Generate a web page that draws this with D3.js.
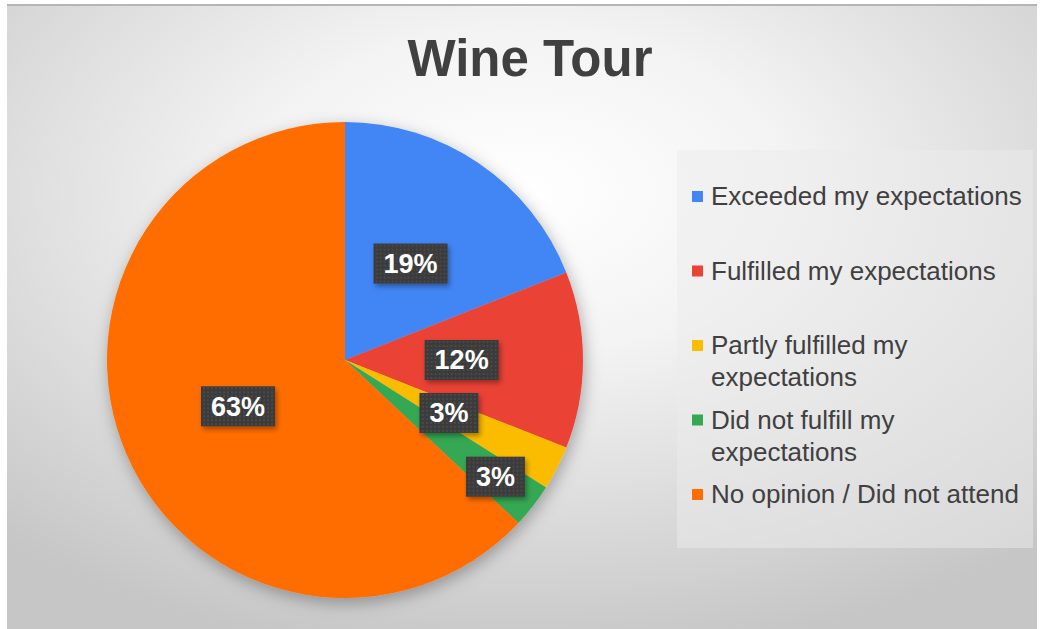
<!DOCTYPE html>
<html>
<head>
<meta charset="utf-8">
<script src="https://cdn.jsdelivr.net/npm/d3@7"></script>
<style>
  body { margin: 0; background: #fff; }
  svg { display: block; font-family: "Liberation Sans", Arial, sans-serif; }
</style>
</head>
<body>
<div id="chart"></div>
<script>
// Chart data
const categories = [
    "Exceeded my expectations",
    "Fulfilled my expectations",
    "Partly fulfilled my expectations",
    "Did not fulfill my expectations",
    "No opinion / Did not attend"
];
const shares = [19, 12, 3, 3, 63];
const colors = ["#4285f4", "#ea4335", "#fbbc04", "#34a853", "#ff6d01"];
const title = "Wine Tour";

const width = 1040, height = 629;
const cx = 345, cy = 360, radius = 238;

const svg = d3.select("#chart").append("svg")
    .attr("width", width)
    .attr("height", height);

const defs = svg.append("defs");

// Background gradient
const bg = defs.append("radialGradient")
    .attr("id", "bg")
    .attr("cx", "50%").attr("cy", "30%").attr("r", "75%");
bg.append("stop").attr("offset", "0%").attr("stop-color", "#ffffff");
bg.append("stop").attr("offset", "35%").attr("stop-color", "#f3f3f3");
bg.append("stop").attr("offset", "100%").attr("stop-color", "#c6c6c6");

// Shadows
const sh = defs.append("filter").attr("id", "shadow")
    .attr("x", "-20%").attr("y", "-20%").attr("width", "140%").attr("height", "140%");
sh.append("feDropShadow").attr("dx", 2).attr("dy", 5).attr("stdDeviation", 8)
    .attr("flood-color", "#000").attr("flood-opacity", 0.3);

const lsh = defs.append("filter").attr("id", "lshadow")
    .attr("x", "-30%").attr("y", "-30%").attr("width", "160%").attr("height", "160%");
lsh.append("feDropShadow").attr("dx", 2).attr("dy", 3).attr("stdDeviation", 2.5)
    .attr("flood-color", "#000").attr("flood-opacity", 0.35);

// Dotted fill for the data labels
const pat = defs.append("pattern").attr("id", "dots")
    .attr("width", 4).attr("height", 4).attr("patternUnits", "userSpaceOnUse");
pat.append("rect").attr("width", 4).attr("height", 4).attr("fill", "#3b3b3b");
pat.append("circle").attr("cx", 2).attr("cy", 2).attr("r", 0.9).attr("fill", "#4e4e4e");

// Chart area
svg.append("rect")
    .attr("x", 7).attr("y", 4)
    .attr("width", 1030).attr("height", height - 4)
    .attr("fill", "url(#bg)");
svg.append("line")
    .attr("x1", 7).attr("x2", 1037).attr("y1", 5).attr("y2", 5)
    .attr("stroke", "#b5b5b5").attr("stroke-width", 2);

// Title
svg.append("text")
    .attr("x", 530).attr("y", 76)
    .attr("text-anchor", "middle")
    .attr("font-size", 51)
    .attr("font-weight", "bold")
    .attr("fill", "#404040")
    .text(title);

// Pie
const pie = d3.pie().sort(null).value(d => d);
const arcs = pie(shares);
const arc = d3.arc().innerRadius(0).outerRadius(radius);

const g = svg.append("g").attr("transform", `translate(${cx},${cy})`);

g.append("g")
    .attr("filter", "url(#shadow)")
    .selectAll("path")
    .data(arcs)
    .enter().append("path")
    .attr("d", arc)
    .attr("fill", (d, i) => colors[i]);

// Data labels; "best fit": a label that would overlap the one before is moved out
const total = d3.sum(shares);
const fmt = d3.format(".0%");
const placed = [];
const labels = g.append("g");

arcs.forEach((d, i) => {
    const lg = labels.append("g");
    const txt = lg.append("text")
        .attr("text-anchor", "middle")
        .attr("dy", "0.35em")
        .attr("font-size", 27)
        .attr("font-weight", "bold")
        .attr("fill", "#fff")
        .text(fmt(d.value / total));
    const tw = txt.node().getComputedTextLength();
    const bw = tw + 20, bh = 40;
    const mid = (d.startAngle + d.endAngle) / 2;
    const at = r => ({ x: r * Math.sin(mid), y: -r * Math.cos(mid) });
    const hits = p0 => placed.some(p =>
        Math.abs(p0.x - p.x) < (bw + p.w) / 2 && Math.abs(p0.y - p.y) < (bh + p.h) / 2);
    let pos = at(radius * 0.49);
    if (hits(pos)) pos = at(radius * 0.8);
    placed.push({ x: pos.x, y: pos.y, w: bw, h: bh });
    lg.attr("transform", `translate(${pos.x},${pos.y})`);
    lg.insert("rect", "text")
        .attr("x", -bw / 2).attr("y", -bh / 2)
        .attr("width", bw).attr("height", bh)
        .attr("fill", "url(#dots)")
        .attr("filter", "url(#lshadow)");
});

// Legend
svg.append("rect")
    .attr("x", 677).attr("y", 150)
    .attr("width", 356).attr("height", 398)
    .attr("fill", "#ececec")
    .attr("fill-opacity", 0.5);

const legend = svg.append("g").attr("transform", "translate(692,205)");
const rowStep = 74.5, lineHeight = 32, maxWidth = 318;

categories.forEach((name, i) => {
    const row = legend.append("g").attr("transform", `translate(0,${i * rowStep})`);
    row.append("rect")
        .attr("x", 0).attr("y", -14)
        .attr("width", 11).attr("height", 11)
        .attr("fill", colors[i]);
    const t = row.append("text")
        .attr("x", 19)
        .attr("font-size", 26)
        .attr("fill", "#404040");
    // wrap long names
    const words = name.split(" ");
    let line = [];
    let tspan = t.append("tspan").attr("x", 19).attr("dy", 0);
    words.forEach(w => {
        line.push(w);
        tspan.text(line.join(" "));
        if (tspan.node().getComputedTextLength() > maxWidth && line.length > 1) {
            line.pop();
            tspan.text(line.join(" "));
            line = [w];
            tspan = t.append("tspan").attr("x", 19).attr("dy", lineHeight).text(w);
        }
    });
});
</script>
</body>
</html>
